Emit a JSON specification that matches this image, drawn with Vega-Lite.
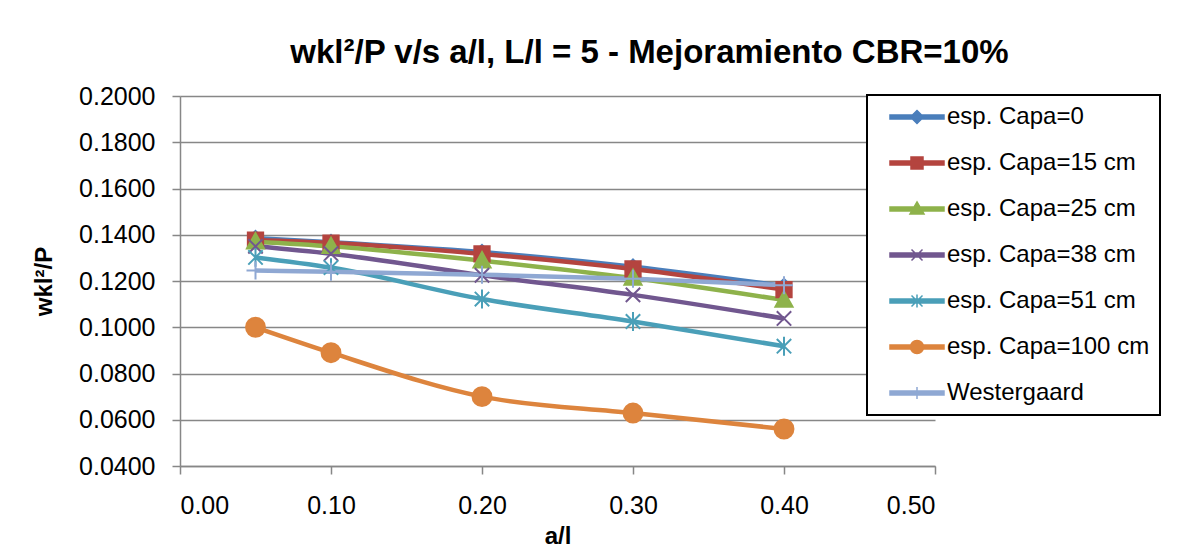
{
  "$schema": "https://vega.github.io/schema/vega-lite/v6.json",
  "autosize": {"type": "none"},
  "padding": {"left": 180, "top": 96, "right": 265, "bottom": 92},
  "width": 755,
  "height": 370,
  "background": "white",
  "config": {
    "font": "Liberation Sans",
    "view": {"stroke": null}
  },
  "title": {
    "text": "wkl²/P v/s a/l, L/l = 5 - Mejoramiento CBR=10%",
    "font": "Liberation Sans",
    "fontSize": 33,
    "fontWeight": "bold",
    "color": "black",
    "anchor": "middle",
    "frame": "group",
    "dx": 92,
    "offset": 14
  },
  "data": {
    "values": [
      {"a": 0.05, "s": "esp. Capa=0", "v": 0.1385},
      {"a": 0.10, "s": "esp. Capa=0", "v": 0.1368},
      {"a": 0.20, "s": "esp. Capa=0", "v": 0.1325},
      {"a": 0.30, "s": "esp. Capa=0", "v": 0.1262},
      {"a": 0.40, "s": "esp. Capa=0", "v": 0.1178},
      {"a": 0.05, "s": "esp. Capa=15 cm", "v": 0.1377},
      {"a": 0.10, "s": "esp. Capa=15 cm", "v": 0.1364},
      {"a": 0.20, "s": "esp. Capa=15 cm", "v": 0.1317},
      {"a": 0.30, "s": "esp. Capa=15 cm", "v": 0.1252},
      {"a": 0.40, "s": "esp. Capa=15 cm", "v": 0.1163},
      {"a": 0.05, "s": "esp. Capa=25 cm", "v": 0.1370},
      {"a": 0.10, "s": "esp. Capa=25 cm", "v": 0.1350},
      {"a": 0.20, "s": "esp. Capa=25 cm", "v": 0.1288},
      {"a": 0.30, "s": "esp. Capa=25 cm", "v": 0.1213},
      {"a": 0.40, "s": "esp. Capa=25 cm", "v": 0.1118},
      {"a": 0.05, "s": "esp. Capa=38 cm", "v": 0.1350},
      {"a": 0.10, "s": "esp. Capa=38 cm", "v": 0.1318},
      {"a": 0.20, "s": "esp. Capa=38 cm", "v": 0.1225},
      {"a": 0.30, "s": "esp. Capa=38 cm", "v": 0.1140},
      {"a": 0.40, "s": "esp. Capa=38 cm", "v": 0.1038},
      {"a": 0.05, "s": "esp. Capa=51 cm", "v": 0.1302},
      {"a": 0.10, "s": "esp. Capa=51 cm", "v": 0.1258},
      {"a": 0.20, "s": "esp. Capa=51 cm", "v": 0.1122},
      {"a": 0.30, "s": "esp. Capa=51 cm", "v": 0.1025},
      {"a": 0.40, "s": "esp. Capa=51 cm", "v": 0.0918},
      {"a": 0.05, "s": "esp. Capa=100 cm", "v": 0.1000},
      {"a": 0.10, "s": "esp. Capa=100 cm", "v": 0.0890},
      {"a": 0.20, "s": "esp. Capa=100 cm", "v": 0.0700},
      {"a": 0.30, "s": "esp. Capa=100 cm", "v": 0.0629},
      {"a": 0.40, "s": "esp. Capa=100 cm", "v": 0.0560},
      {"a": 0.05, "s": "Westergaard", "v": 0.1245},
      {"a": 0.10, "s": "Westergaard", "v": 0.1240},
      {"a": 0.20, "s": "Westergaard", "v": 0.1227},
      {"a": 0.30, "s": "Westergaard", "v": 0.1210},
      {"a": 0.40, "s": "Westergaard", "v": 0.1182}
    ]
  },
  "encoding": {
    "x": {
      "field": "a", "type": "quantitative",
      "scale": {"domain": [0, 0.5], "nice": false, "zero": false},
      "axis": {
        "title": "a/l",
        "titleFontSize": 24, "titleFontWeight": "bold", "titleColor": "black",
        "titlePadding": 6,
        "values": [0, 0.1, 0.2, 0.3, 0.4, 0.5],
        "format": ".2f",
        "labelFontSize": 25, "labelColor": "black", "labelPadding": 19,
        "grid": false,
        "domainColor": "#878787", "domainWidth": 1.5,
        "tickColor": "#878787", "tickWidth": 1.5, "tickSize": 8
      }
    },
    "y": {
      "field": "v", "type": "quantitative",
      "scale": {"domain": [0.04, 0.2], "nice": false, "zero": false},
      "axis": {
        "title": "wkl²/P",
        "titleFontSize": 24, "titleFontWeight": "bold", "titleColor": "black",
        "titlePadding": 22,
        "values": [0.04, 0.06, 0.08, 0.1, 0.12, 0.14, 0.16, 0.18, 0.2],
        "format": ".4f",
        "labelFontSize": 25, "labelColor": "black", "labelPadding": 17,
        "grid": true, "gridColor": "#878787", "gridWidth": 1.5,
        "domainColor": "#878787", "domainWidth": 1.5,
        "tickColor": "#878787", "tickWidth": 1.5, "tickSize": 8
      }
    }
  },
  "resolve": {"legend": {"color": "independent", "shape": "independent", "fill": "independent", "stroke": "independent"}},
  "layer": [
    {
      "mark": {"type": "line", "strokeWidth": 4.5, "interpolate": "monotone"},
      "encoding": {
        "color": {
          "field": "s", "type": "nominal",
          "scale": {
            "domain": ["esp. Capa=0", "esp. Capa=15 cm", "esp. Capa=25 cm", "esp. Capa=38 cm", "esp. Capa=51 cm", "esp. Capa=100 cm", "Westergaard"],
            "range": ["#4A7EBB", "#B4443F", "#8EB24B", "#71578F", "#4A9FB8", "#DD843D", "#8FA8D3"]
          },
          "legend": {
            "orient": "none",
            "legendX": 687,
            "legendY": -1,
            "title": null,
            "strokeColor": "black",
            "fillColor": "white",
            "padding": 10,
            "symbolSize": 400,
            "symbolStrokeWidth": 1.5,
            "labelFontSize": 24,
            "labelColor": "black",
            "labelOffset": 46,
            "rowPadding": 22,
            "labelLimit": 400,
            "encode": {
              "legend": {"update": {"strokeWidth": {"value": 2}}},
              "symbols": {
                "update": {
                  "shape": {"signal": "['M0.1,-0.2H5.5V0.2H0.1Z M2.8,-0.65L3.45,0L2.8,0.65L2.15,0Z', 'M0.1,-0.2H5.5V0.2H0.1Z M2.2,-0.6H3.4V0.6H2.2Z', 'M0.1,-0.2H5.5V0.2H0.1Z M2.8,-0.7L3.5,0.5H2.1Z', 'M0.1,-0.2H5.5V0.2H0.1Z M2.25,-0.55L3.35,0.55M2.25,0.55L3.35,-0.55', 'M0.1,-0.2H5.5V0.2H0.1Z M2.25,-0.55L3.35,0.55M2.25,0.55L3.35,-0.55M2.8,-0.65V0.65', 'M0.1,-0.2H5.5V0.2H0.1Z M2.15,0A0.65,0.65,0,1,1,3.45,0A0.65,0.65,0,1,1,2.15,0Z', 'M0.1,-0.2H5.5V0.2H0.1Z M2.8,-0.6V0.6'][indexof(['esp. Capa=0', 'esp. Capa=15 cm', 'esp. Capa=25 cm', 'esp. Capa=38 cm', 'esp. Capa=51 cm', 'esp. Capa=100 cm', 'Westergaard'], datum.value)]"},
                  "fill": {"scale": "color", "field": "value"},
                  "stroke": {"scale": "color", "field": "value"},
                  "strokeWidth": {"value": 1.5},
                  "opacity": {"value": 1}
                }
              }
            }
          }
        }
      }
    },
    {
      "mark": {"type": "point", "filled": true, "size": 324, "strokeWidth": 2, "opacity": 1},
      "encoding": {
        "shape": {
          "field": "s", "type": "nominal",
          "scale": {
            "domain": ["esp. Capa=0", "esp. Capa=15 cm", "esp. Capa=25 cm", "esp. Capa=38 cm", "esp. Capa=51 cm", "esp. Capa=100 cm", "Westergaard"],
            "range": [
              "M0,-0.8L0.8,0L0,0.8L-0.8,0Z",
              "M-0.85,-0.85H0.85V0.85H-0.85Z",
              "M0,-0.95L0.95,0.75H-0.95Z",
              "M-0.8,-0.8L0.8,0.8M-0.8,0.8L0.8,-0.8",
              "M-0.8,-0.8L0.8,0.8M-0.8,0.8L0.8,-0.8M0,-1.05V1.05",
              "M-1.05,0A1.05,1.05,0,1,1,1.05,0A1.05,1.05,0,1,1,-1.05,0Z",
              "M-1,0H1M0,-1V1"
            ]
          },
          "legend": null
        },
        "fill": {
          "field": "s", "type": "nominal",
          "scale": {
            "domain": ["esp. Capa=0", "esp. Capa=15 cm", "esp. Capa=25 cm", "esp. Capa=38 cm", "esp. Capa=51 cm", "esp. Capa=100 cm", "Westergaard"],
            "range": ["#4A7EBB", "#B4443F", "#8EB24B", "#71578F", "#4A9FB8", "#DD843D", "#8FA8D3"]
          },
          "legend": null
        },
        "stroke": {
          "field": "s", "type": "nominal",
          "scale": {
            "domain": ["esp. Capa=0", "esp. Capa=15 cm", "esp. Capa=25 cm", "esp. Capa=38 cm", "esp. Capa=51 cm", "esp. Capa=100 cm", "Westergaard"],
            "range": ["#4A7EBB", "#B4443F", "#8EB24B", "#71578F", "#4A9FB8", "#DD843D", "#8FA8D3"]
          },
          "legend": null
        }
      }
    }
  ]
}
